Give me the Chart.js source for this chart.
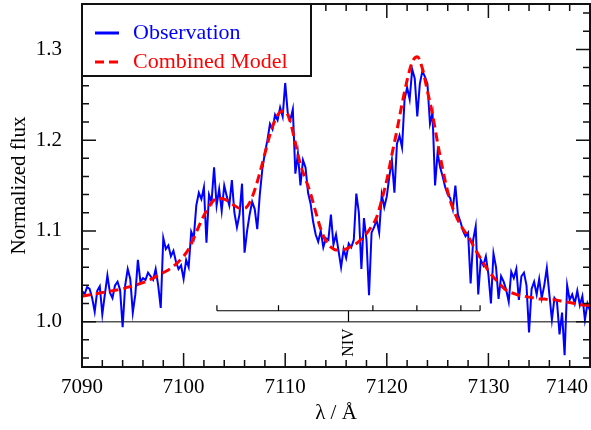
<!DOCTYPE html>
<html>
<head>
<meta charset="utf-8">
<script src="https://cdn.jsdelivr.net/npm/chart.js@4/dist/chart.umd.min.js"></script>
<style>
  html, body { margin: 0; padding: 0; background: #fff; }
  #Lienzo { display: block; }
</style>
</head>
<body>
<canvas id="Lienzo" width="591" height="430"></canvas>
<script>
// Espectro observado (paso 0.25 A) y modelo combinado (paso 0.5 A)
const ObsInicio = 7090, ObsPaso = 0.25;
const ObsFlujo = [
  1.034, 1.030, 1.038, 1.036, 1.026, 1.011, 1.034, 1.039,
  1.008, 1.030, 1.051, 1.032, 1.026, 1.040, 1.044, 1.035,
  0.994, 1.040, 1.058, 1.047, 1.010, 1.030, 1.068, 1.044,
  1.048, 1.046, 1.054, 1.050, 1.046, 1.058, 1.040, 1.015,
  1.092, 1.080, 1.084, 1.072, 1.078, 1.066, 1.058, 1.062,
  1.047, 1.068, 1.060, 1.099, 1.092, 1.128, 1.142, 1.135,
  1.148, 1.087, 1.140, 1.132, 1.170, 1.128, 1.146, 1.122,
  1.150, 1.138, 1.128, 1.156, 1.120, 1.104, 1.118, 1.152,
  1.076, 1.100, 1.118, 1.132, 1.124, 1.102, 1.140, 1.168,
  1.186, 1.200, 1.218, 1.212, 1.228, 1.222, 1.236, 1.226,
  1.263, 1.230, 1.222, 1.234, 1.163, 1.185, 1.150, 1.178,
  1.170, 1.142, 1.130, 1.110, 1.096, 1.088, 1.100, 1.082,
  1.092, 1.090, 1.118, 1.085, 1.096, 1.078, 1.060, 1.080,
  1.070, 1.086, 1.082, 1.090, 1.141, 1.120, 1.058, 1.114,
  1.090, 1.029, 1.098, 1.104, 1.112, 1.098, 1.140, 1.126,
  1.138, 1.160, 1.178, 1.142, 1.196, 1.205, 1.192, 1.245,
  1.258, 1.245, 1.278, 1.268, 1.226, 1.262, 1.276, 1.270,
  1.262, 1.218, 1.230, 1.150, 1.186, 1.170, 1.160, 1.148,
  1.140, 1.136, 1.124, 1.150, 1.118, 1.110, 1.100, 1.094,
  1.098, 1.042, 1.090, 1.105, 1.030, 1.068, 1.062, 1.072,
  1.052, 1.020, 1.075, 1.060, 1.025, 1.050, 1.044, 1.035,
  1.022, 1.055, 1.048, 1.058, 1.024, 1.050, 1.054, 1.040,
  0.988, 1.036, 1.044, 1.030, 1.047, 1.026, 1.040, 1.059,
  1.030, 1.002, 1.026, 1.022, 0.986, 1.010, 0.963, 1.040,
  1.024, 1.030, 1.020, 1.034, 1.018, 1.028, 1.002, 1.020,
  1.012
];

const ModInicio = 7090, ModPaso = 0.5;
const ModFlujo = [
  1.028, 1.029, 1.030, 1.031, 1.032, 1.033, 1.034, 1.035, 1.036, 1.038,
  1.039, 1.041, 1.043, 1.045, 1.048, 1.051, 1.054, 1.057, 1.061, 1.066,
  1.072, 1.080, 1.092, 1.105, 1.117, 1.127, 1.134, 1.136, 1.135, 1.132,
  1.128, 1.125, 1.125, 1.131, 1.145, 1.164, 1.185, 1.206, 1.222, 1.231,
  1.232, 1.220, 1.197, 1.173, 1.157, 1.141, 1.121, 1.102, 1.089, 1.082,
  1.079, 1.079, 1.080, 1.083, 1.086, 1.091, 1.097, 1.105, 1.115, 1.134,
  1.156, 1.184, 1.211, 1.240, 1.266, 1.286, 1.292, 1.279, 1.254, 1.228,
  1.197, 1.168, 1.143, 1.125, 1.112, 1.102, 1.094, 1.084, 1.074, 1.065,
  1.056, 1.049, 1.043, 1.037, 1.033, 1.031, 1.029, 1.028, 1.027, 1.026,
  1.025, 1.025, 1.024, 1.024, 1.023, 1.022, 1.021, 1.020, 1.019, 1.018,
  1.018
];

const TicksX  = [7090, 7100, 7110, 7120, 7130, 7140];
const TicksY  = [1.0, 1.1, 1.2, 1.3];
const MenorX  = 2;
const MenorY  = 0.02;

// Multiplete N IV
const LineasNIV = [7103.28, 7109.34, 7118.63, 7122.96, 7127.29, 7129.18];
const CentroNIV = 7116.23;
const NivelNIV  = 1.012;
const TopeNIV   = 1.018;

const Etiquetas = ['Observation', 'Combined Model'];
const Fuente    = '"Liberation Serif", "Times New Roman", serif';

const PuntosObs = ObsFlujo.map((F, I) => ({ x: ObsInicio + I * ObsPaso, y: F }));
const PuntosMod = ModFlujo.map((F, I) => ({ x: ModInicio + I * ModPaso, y: F }));

const SinRelleno = S => {
  S.paddingTop = 0; S.paddingBottom = 0; S.paddingLeft = 0; S.paddingRight = 0;
};

const Marco = {
  id: 'Marco',
  beforeDatasetsDraw(Grafico) {
    const { ctx, chartArea: A, scales: { y } } = Grafico;
    const Y1 = y.getPixelForValue(1.0);
    ctx.save();
    ctx.strokeStyle = '#555';
    ctx.lineWidth = 1.5;
    ctx.beginPath();
    ctx.moveTo(A.left, Y1);
    ctx.lineTo(A.right, Y1);
    ctx.stroke();
    ctx.restore();
  },
  afterDatasetsDraw(Grafico) {
    const { ctx, chartArea: A, scales: { x, y } } = Grafico;
    ctx.save();

    // Marcas de los ejes (hacia adentro, en los cuatro lados)
    ctx.strokeStyle = '#111';
    ctx.lineWidth = 1.5;
    ctx.beginPath();
    const MarcaX = (V, L) => {
      const P = x.getPixelForValue(V);
      ctx.moveTo(P, A.bottom); ctx.lineTo(P, A.bottom - L);
      ctx.moveTo(P, A.top);    ctx.lineTo(P, A.top + L);
    };
    const MarcaY = (V, L) => {
      const P = y.getPixelForValue(V);
      ctx.moveTo(A.left, P);  ctx.lineTo(A.left + L, P);
      ctx.moveTo(A.right, P); ctx.lineTo(A.right - L, P);
    };
    for (let V = x.min; V <= x.max + 1e-9; V += MenorX) {
      MarcaX(V, TicksX.includes(Math.round(V)) ? 14 : 7);
    }
    for (let K = 0; ; K++) {
      const V = Math.round((0.96 + K * MenorY) * 1000) / 1000;
      if (V > y.max) break;
      MarcaY(V, TicksY.some(T => Math.abs(T - V) < 1e-6) ? 14 : 7);
    }
    ctx.stroke();

    // Marco
    ctx.lineWidth = 2;
    ctx.strokeRect(A.left, A.top, A.right - A.left, A.bottom - A.top);

    // Multiplete N IV
    ctx.strokeStyle = '#000';
    ctx.lineWidth = 1.2;
    const YN = y.getPixelForValue(NivelNIV);
    const YT = y.getPixelForValue(TopeNIV);
    ctx.beginPath();
    ctx.moveTo(x.getPixelForValue(LineasNIV[0]), YN);
    ctx.lineTo(x.getPixelForValue(LineasNIV[LineasNIV.length - 1]), YN);
    LineasNIV.forEach(L => {
      const P = x.getPixelForValue(L);
      ctx.moveTo(P, YN); ctx.lineTo(P, YT);
    });
    const PC = x.getPixelForValue(CentroNIV);
    ctx.moveTo(PC, YN); ctx.lineTo(PC, y.getPixelForValue(1.0));
    ctx.stroke();

    ctx.fillStyle = '#000';
    ctx.font = `16px ${Fuente}`;
    ctx.save();
    ctx.translate(PC, y.getPixelForValue(1.0) + 21);
    ctx.rotate(-Math.PI / 2);
    ctx.textAlign = 'center';
    ctx.textBaseline = 'middle';
    ctx.fillText('NIV', 0, 0);
    ctx.restore();

    // Etiquetas del eje X
    ctx.font = `21px ${Fuente}`;
    ctx.textBaseline = 'middle';
    TicksX.forEach((V, I) => {
      const P = x.getPixelForValue(V);
      if (I === TicksX.length - 1) {
        ctx.textAlign = 'right';
        ctx.fillText(String(V), P - 2, A.bottom + 20);
      } else {
        ctx.textAlign = 'center';
        ctx.fillText(String(V), P, A.bottom + 20);
      }
    });

    // Titulos
    ctx.textAlign = 'center';
    ctx.fillText('\u03bb / \u00c5', (A.left + A.right) / 2, A.bottom + 46);
    ctx.save();
    ctx.translate(19, (A.top + A.bottom) / 2);
    ctx.rotate(-Math.PI / 2);
    ctx.fillText('Normalized flux', 0, 0);
    ctx.restore();

    // Leyenda
    const LX = A.left, LY = A.top, LW = 229, LH = 72;
    ctx.fillStyle = '#fff';
    ctx.fillRect(LX, LY, LW, LH);
    ctx.strokeStyle = '#111';
    ctx.lineWidth = 2;
    ctx.strokeRect(LX, LY, LW, LH);

    ctx.lineWidth = 3;
    ctx.strokeStyle = '#0000ff';
    ctx.beginPath();
    ctx.moveTo(LX + 13, LY + 29); ctx.lineTo(LX + 37, LY + 29);
    ctx.stroke();
    ctx.strokeStyle = '#ff0000';
    ctx.setLineDash([9, 5]);
    ctx.beginPath();
    ctx.moveTo(LX + 13, LY + 58); ctx.lineTo(LX + 37, LY + 58);
    ctx.stroke();
    ctx.setLineDash([]);

    ctx.font = `22px ${Fuente}`;
    ctx.textAlign = 'left';
    ctx.fillStyle = '#0000ff';
    ctx.fillText(Etiquetas[0], LX + 51, LY + 29);
    ctx.fillStyle = '#ff0000';
    ctx.fillText(Etiquetas[1], LX + 51, LY + 58);

    ctx.restore();
  }
};

new Chart(document.getElementById('Lienzo').getContext('2d'), {
  type: 'line',
  data: {
    datasets: [
      {
        label: Etiquetas[1],
        data: PuntosMod,
        borderColor: '#ff0000',
        borderWidth: 3,
        borderDash: [9, 5],
        pointRadius: 0,
        cubicInterpolationMode: 'monotone',
        fill: false
      },
      {
        label: Etiquetas[0],
        data: PuntosObs,
        borderColor: '#0000ff',
        borderWidth: 2,
        pointRadius: 0,
        tension: 0,
        fill: false
      }
    ]
  },
  options: {
    responsive: false,
    animation: false,
    devicePixelRatio: 1,
    layout: { padding: { left: 0, right: 1, top: 4, bottom: 0 } },
    plugins: { legend: { display: false }, tooltip: { enabled: false } },
    scales: {
      x: {
        type: 'linear',
        min: 7090,
        max: 7140,
        afterBuildTicks: S => { S.ticks = TicksX.map(V => ({ value: V })); },
        afterFit: S => { S.height = 63; SinRelleno(S); },
        grid: { display: false },
        border: { display: false },
        ticks: { display: false }
      },
      y: {
        min: 0.95,
        max: 1.35,
        afterBuildTicks: S => { S.ticks = TicksY.map(V => ({ value: V })); },
        afterFit: S => { S.width = 82; SinRelleno(S); },
        grid: { display: false, drawTicks: false },
        border: { display: false },
        ticks: {
          padding: 20,
          color: '#000',
          font: { family: Fuente, size: 21 },
          callback: V => V.toFixed(1)
        }
      }
    }
  },
  plugins: [Marco]
});
</script>
</body>
</html>
